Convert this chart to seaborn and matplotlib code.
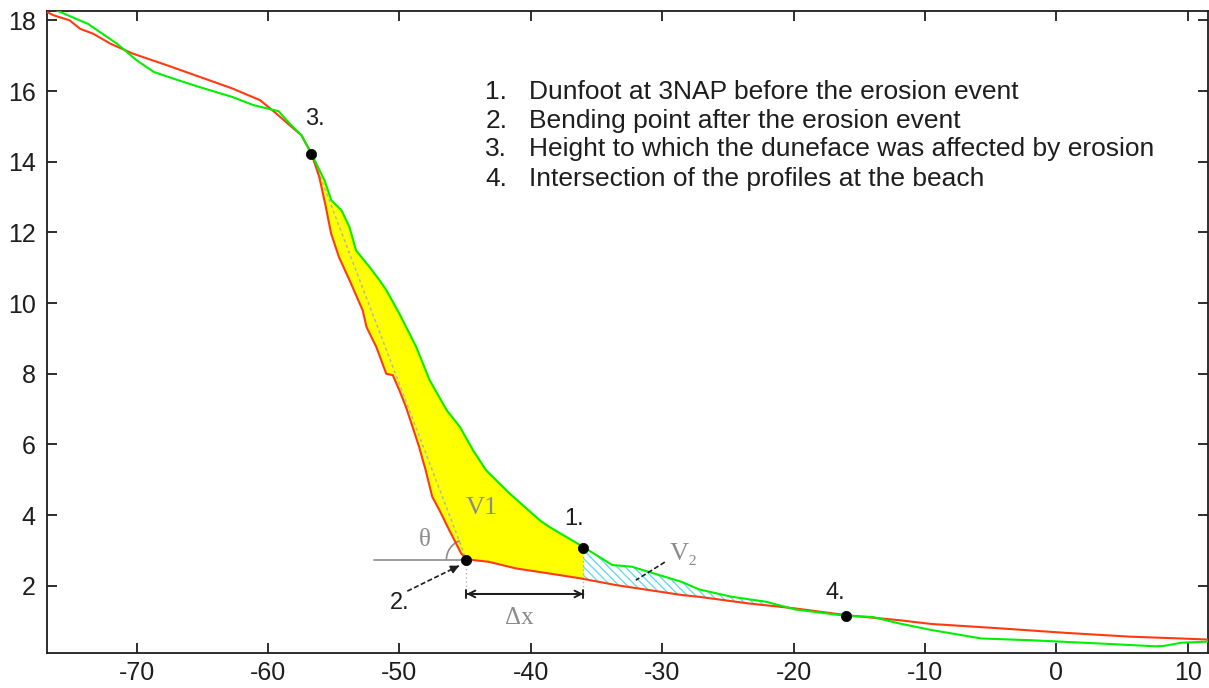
import numpy as np
import pandas as pd
import matplotlib
matplotlib.use("Agg")
import matplotlib.pyplot as plt
import seaborn as sns

# ---- profile data ----
pre_x = [-76.1, -73.7, -72.8, -71.5, -70.0, -68.7, -67.2, -65.2, -62.7, -61.1,
         -59.2, -58.35, -57.46, -56.7, -55.7, -55.18, -54.4, -53.8, -53.3, -52.27,
         -51.5, -51.0, -50.0, -48.72, -47.7, -46.4, -45.4, -44.4, -43.4, -41.6,
         -39.3, -38.6, -36.0, -33.8, -32.3, -28.5, -27.2, -24.7, -22.1, -19.85,
         -16.0, -14.0, -12.0, -9.5, -5.7, -1.9, 3.2, 7.5, 8.2, 9.5, 11.5]
pre_y = [18.28, 17.9, 17.67, 17.34, 16.87, 16.54, 16.35, 16.11, 15.83, 15.6,
         15.43, 15.08, 14.75, 14.23, 13.47, 12.91, 12.62, 12.15, 11.49, 11.02,
         10.64, 10.37, 9.70, 8.76, 7.82, 6.97, 6.50, 5.84, 5.27, 4.61,
         3.85, 3.67, 3.10, 2.59, 2.54, 2.11, 1.90, 1.69, 1.55, 1.33,
         1.15, 1.12, 0.94, 0.75, 0.51, 0.46, 0.37, 0.29, 0.30, 0.39, 0.42]

post_x = [-76.8, -76.3, -75.1, -74.3, -73.3, -72.0, -70.3, -67.7, -65.2, -62.7,
          -60.6, -59.36, -58.35, -57.46, -56.7, -56.1, -55.6, -55.2, -54.6, -53.8,
          -52.8, -52.5, -51.76, -51.0, -50.5, -50.0, -49.5, -49.0, -48.5, -48.0,
          -47.5, -46.95, -46.2, -45.3, -44.9, -43.2, -41.1, -38.6, -36.2, -33.5,
          -28.5, -27.2, -23.4, -22.1, -19.85, -16.0, -12.0, -9.5, -4.4, 0.67,
          5.7, 9.5, 11.5]
post_y = [18.23, 18.14, 18.0, 17.76, 17.62, 17.34, 17.06, 16.73, 16.40, 16.07,
          15.74, 15.36, 15.03, 14.75, 14.23, 13.57, 12.72, 11.97, 11.3, 10.65,
          9.80, 9.32, 8.76, 8.0, 7.96, 7.53, 7.06, 6.50, 5.93, 5.27,
          4.52, 4.14, 3.57, 2.92, 2.75, 2.68, 2.49, 2.35, 2.21, 2.02,
          1.74, 1.69, 1.50, 1.45, 1.36, 1.17, 1.03, 0.92, 0.80, 0.67,
          0.56, 0.51, 0.48]

# key points: 1 dune foot, 2 bending point, 3 top of erosion, 4 intersection
point_labels = ["1.", "2.", "3.", "4."]
point_x = [-36.0, -44.9, -56.7, -16.0]
point_y = [3.08, 2.74, 14.23, 1.15]

legend_numbers = ["1.", "2.", "3.", "4."]
legend_lines = [
    "Dunfoot at 3NAP before the erosion event",
    "Bending point after the erosion event",
    "Height to which the duneface was affected by erosion",
    "Intersection of the profiles at the beach",
]

x_ticks = [-70, -60, -50, -40, -30, -20, -10, 0, 10]
y_ticks = [2, 4, 6, 8, 10, 12, 14, 16, 18]

# ---- style ----
sns.set_style("ticks")
plt.rcParams['font.family'] = ['Liberation Sans', 'DejaVu Sans']

GREEN = "#00f000"
RED = "#ff3a10"
GREY = "#8c8c8c"
INK = "#1e1e1e"

fig = plt.figure(figsize=(12.09, 6.88), dpi=100)
ax = fig.add_axes([0.0386, 0.0509, 0.9606, 0.9324])
ax.set_xlim(-76.85, 11.55)
ax.set_ylim(0.10, 18.25)

pre = pd.DataFrame({"x": pre_x, "y": pre_y})
post = pd.DataFrame({"x": post_x, "y": post_y})

# ---- eroded volume V1 (yellow) and V2 (hatched) ----
px_arr, py_arr = np.array(pre_x), np.array(pre_y)
qx_arr, qy_arr = np.array(post_x), np.array(post_y)
x_top, x_foot, x_int = point_x[2], point_x[0], point_x[3]

grid1 = np.unique(np.concatenate([px_arr, qx_arr, [x_top, x_foot]]))
grid1 = grid1[(grid1 >= x_top) & (grid1 <= x_foot)]
ax.fill_between(grid1, np.interp(grid1, qx_arr, qy_arr), np.interp(grid1, px_arr, py_arr),
                color="#ffff00", linewidth=0, zorder=1)

grid2 = np.unique(np.concatenate([px_arr, qx_arr, [x_foot, x_int]]))
grid2 = grid2[(grid2 >= x_foot) & (grid2 <= x_int)]
g2 = np.interp(grid2, px_arr, py_arr)
r2 = np.interp(grid2, qx_arr, qy_arr)
plt.rcParams['hatch.linewidth'] = 0.9
ax.fill_between(grid2, r2, g2, where=g2 >= r2, facecolor="none", edgecolor="#5ad8f5",
                hatch="\\\\\\\\", linewidth=0, zorder=1)

# ---- profiles ----
sns.lineplot(data=post, x="x", y="y", color=RED, linewidth=1.5, sort=False,
             estimator=None, ax=ax, zorder=3)
sns.lineplot(data=pre, x="x", y="y", color=GREEN, linewidth=1.5, sort=False,
             estimator=None, ax=ax, zorder=3)

# slope line from point 3 to point 2
ax.plot([point_x[2], point_x[1]], [point_y[2], point_y[1]], color="#b4b4b4",
        linestyle=(0, (2, 2)), linewidth=1.1, zorder=2)

# theta construction
theta_start = -51.9
ax.plot([theta_start, point_x[1]], [point_y[1], point_y[1]], color=GREY, linewidth=1.2, zorder=2)
fig.canvas.draw()
bb = ax.get_window_extent()
sx = bb.width / (ax.get_xlim()[1] - ax.get_xlim()[0])
sy = bb.height / (ax.get_ylim()[1] - ax.get_ylim()[0])
slope_ang = np.degrees(np.arctan2((point_y[2] - point_y[1]) * sy, (point_x[2] - point_x[1]) * sx))
t = np.radians(np.linspace(slope_ang, 180, 30))
r_px = 20
ax.plot(point_x[1] + r_px * np.cos(t) / sx, point_y[1] + r_px * np.sin(t) / sy,
        color=GREY, linewidth=1.2, zorder=2)

# delta-x construction
dx_y = 1.77
dot_bottom = 1.68
for i in (0, 1):
    ax.plot([point_x[i], point_x[i]], [point_y[i], dot_bottom], color="#b0b0b0",
            linestyle=(0, (1, 2)), linewidth=1.0, zorder=2)
ax.annotate("", xy=(point_x[0], dx_y), xytext=(point_x[1], dx_y),
            arrowprops=dict(arrowstyle="<->", color=INK, lw=1.4, shrinkA=0, shrinkB=0,
                            mutation_scale=12))
ax.annotate("", xy=(point_x[0], dx_y), xytext=(point_x[1], dx_y),
            arrowprops=dict(arrowstyle="|-|,widthA=0.25,widthB=0.25", color=INK, lw=1.4,
                            shrinkA=0, shrinkB=0, mutation_scale=12))

# pointer from label 2 to point 2 (dashed with head)
ptr_start = (-49.4, 1.85)
ptr_end = (-45.45, 2.57)
ax.plot([ptr_start[0], ptr_end[0]], [ptr_start[1], ptr_end[1]], color=INK,
        linestyle=(0, (3, 1.5)), linewidth=1.2, zorder=4)
ax.annotate("", xy=ptr_end, xytext=(ptr_end[0] - 0.6, ptr_end[1] - 0.11),
            arrowprops=dict(arrowstyle="-|>", color=INK, lw=1.2, shrinkA=0, shrinkB=0,
                            mutation_scale=12), zorder=4)

# pointer from V2 label into hatched area
ax.plot([-29.8, -32.0], [2.67, 2.16], color=INK, linestyle=(0, (3, 1.5)), linewidth=1.2, zorder=4)

# key points
sns.scatterplot(x=point_x, y=point_y, color="black", s=55, edgecolor="black",
                linewidth=0.5, ax=ax, zorder=5)

label_x = [-36.7, -50.0, -56.45, -16.8]
label_y = [3.90, 1.50, 15.22, 1.79]
for lab, lx, ly in zip(point_labels, label_x, label_y):
    ax.text(lx, ly, lab, fontsize=17, color=INK, ha="center", va="center", zorder=6)

serif = ["Liberation Serif", "DejaVu Serif"]
ax.text(-43.7, 4.19, "V1", fontsize=19, color=GREY, family=serif, ha="center", va="center")
ax.text(-28.33, 2.89, "V\u2082", fontsize=19, color=GREY, family=serif, ha="center", va="center")
ax.text(-48.1, 3.29, "\u03b8", fontsize=18, color=GREY, family=serif, ha="center", va="center")
ax.text(-40.9, 1.08, "\u0394x", fontsize=18, color=GREY, family=serif, ha="center", va="center")

# explanatory list
num_x, txt_x = -43.45, -40.1
list_y = [15.96, 15.14, 14.37, 13.50]
for n, s, yy in zip(legend_numbers, legend_lines, list_y):
    ax.text(num_x, yy, n, fontsize=19, color=INK, ha="left", va="center")
    ax.text(txt_x, yy, s, fontsize=19, color=INK, ha="left", va="center")

# ---- axes styling ----
ax.set_xticks(x_ticks)
ax.set_yticks(y_ticks)
ax.set_xticklabels([str(v) for v in x_ticks])
ax.set_yticklabels([str(v) for v in y_ticks])
ax.set_xlabel("")
ax.set_ylabel("")
ax.tick_params(direction="in", length=7.5, width=1.3, colors=INK, labelsize=18,
               top=True, right=True, pad=6)
ax.tick_params(axis="y", pad=8)
for sp in ax.spines.values():
    sp.set_visible(True)
    sp.set_color(INK)
    sp.set_linewidth(1.3)

fig.savefig("out.png", dpi=100)
